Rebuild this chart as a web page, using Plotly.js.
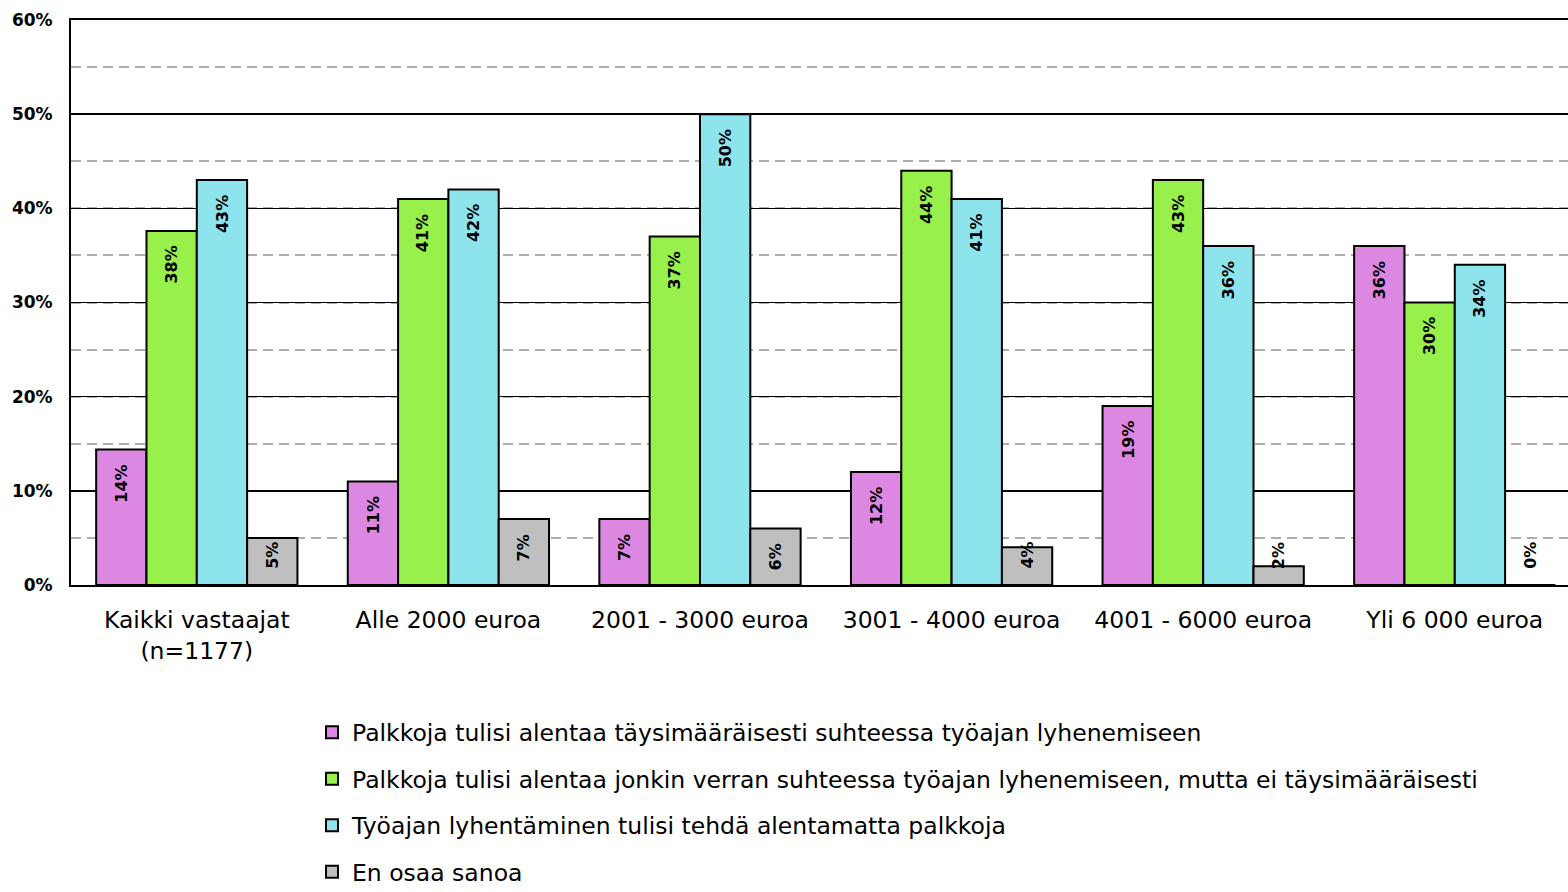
<!DOCTYPE html>
<html><head><meta charset="utf-8">
<script src="https://cdn.plot.ly/plotly-3.0.1.min.js"></script>
<style>html,body{margin:0;padding:0;background:#fff;}#chart{width:1568px;height:892px;}</style>
</head><body><div id="chart"></div>
<script>
const categories = ["Kaikki vastaajat<br>(n=1177)", "Alle 2000 euroa", "2001 - 3000 euroa", "3001 - 4000 euroa", "4001 - 6000 euroa", "Yli 6 000 euroa"];
const seriesNames = [
  "Palkkoja tulisi alentaa täysimääräisesti suhteessa työajan lyhenemiseen",
  "Palkkoja tulisi alentaa jonkin verran suhteessa työajan lyhenemiseen, mutta ei täysimääräisesti",
  "Työajan lyhentäminen tulisi tehdä alentamatta palkkoja",
  "En osaa sanoa"
];
const fullReduction = [14.4, 11, 7, 12, 19, 36];
const partialReduction = [37.6, 41, 37, 44, 43, 30];
const noReduction = [43, 42, 50, 41, 36, 34];
const dontKnow = [5, 7, 6, 4, 2, 0];
const valueLabels = [
  ["14%", "11%", "7%", "12%", "19%", "36%"],
  ["38%", "41%", "37%", "44%", "43%", "30%"],
  ["43%", "42%", "50%", "41%", "36%", "34%"],
  ["5%", "7%", "6%", "4%", "2%", "0%"]
];
const yTickVals = [0, 10, 20, 30, 40, 50, 60];
const yTickText = ["0%", "10%", "20%", "30%", "40%", "50%", "60%"];

const colors = ["#DC88E2", "#98F04B", "#8EE4EC", "#BFBFBF"];
const allSeries = [fullReduction, partialReduction, noReduction, dontKnow];
const FONT = "DejaVu Sans, Verdana, sans-serif";
const bargap = 0.2;
const barW = (1 - bargap) / 4;

const traces = allSeries.map((vals, i) => ({
  type: "bar",
  name: seriesNames[i],
  x: categories,
  y: vals,
  legendgroup: "g" + i,
  marker: {color: colors[i], line: {color: "#000", width: 2}},
  hoverinfo: "skip"
}));

const annotations = [];
allSeries.forEach((vals, i) => {
  vals.forEach((v, j) => {
    const xpos = j + (i - 1.5) * barW;
    const base = {x: xpos, xref: "x", yref: "y", text: valueLabels[i][j], showarrow: false,
      textangle: -90, font: {family: FONT, size: 16, color: "#000", weight: "bold"}};
    if (v >= 6) {
      annotations.push(Object.assign(base, {y: v, yanchor: "top", yshift: -13}));
    } else {
      annotations.push(Object.assign(base, {y: 0, yanchor: "bottom", yshift: 14}));
    }
  });
});

const layout = {
  width: 1568, height: 892,
  margin: {l: 71, r: 0, t: 20, b: 307, autoexpand: false},
  paper_bgcolor: "#fff", plot_bgcolor: "#fff",
  barmode: "group", bargap: bargap, bargroupgap: 0,
  showlegend: true,
  legend: {x: 0.161, y: -0.222, xanchor: "left", yanchor: "top", orientation: "v",
    traceorder: "grouped", tracegroupgap: 13,
    font: {family: FONT, size: 23.5, color: "#000"}, itemwidth: 30},
  xaxis: {type: "category", range: [-0.5, 5.45], showline: true, mirror: true, linecolor: "#000", linewidth: 2, ticks: "",
    tickfont: {family: FONT, size: 23.5, color: "#000"}, showgrid: false, ticklabelstandoff: 13},
  yaxis: {range: [0, 60], tickvals: yTickVals, ticktext: yTickText, showline: true, linecolor: "#000", linewidth: 2,
    showgrid: true, gridcolor: "#000", gridwidth: 1.5, zeroline: false, ticks: "",
    tickfont: {family: FONT, size: 17, color: "#000", weight: "bold"}, ticklabelstandoff: 13,
    minor: {dtick: 5, tick0: 0, showgrid: true, gridcolor: "#ADADAD", griddash: "10px,6px", gridwidth: 2}},
  annotations: annotations,
  font: {family: FONT}
};

Plotly.newPlot("chart", traces, layout, {displayModeBar: false, staticPlot: true});
</script></body></html>
